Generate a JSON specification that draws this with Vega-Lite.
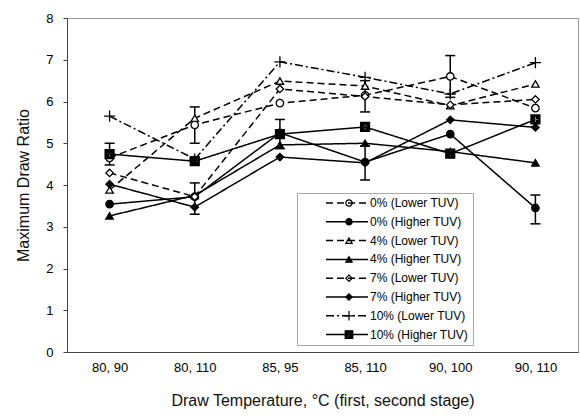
{
  "$schema": "https://vega.github.io/schema/vega-lite/v6.json",
  "width": 511,
  "height": 334,
  "autosize": "none",
  "padding": {"left": 67, "top": 18, "right": 2, "bottom": 68},
  "background": "white",
  "config": {
    "font": "Liberation Sans",
    "view": {"stroke": "#999", "strokeWidth": 1},
    "axis": {"grid": false, "labelColor": "black", "titleColor": "#111", "titleFontWeight": "normal", "domainColor": "#444", "tickColor": "#444", "labelFontSize": 13, "titleFontSize": 16}
  },
  "datasets": {
    "pts": [
      {"series": "0% (Lower TUV)", "temp": "80, 90", "ratio": 4.65},
      {"series": "0% (Lower TUV)", "temp": "80, 110", "ratio": 5.44},
      {"series": "0% (Lower TUV)", "temp": "85, 95", "ratio": 5.96},
      {"series": "0% (Lower TUV)", "temp": "85, 110", "ratio": 6.15},
      {"series": "0% (Lower TUV)", "temp": "90, 100", "ratio": 6.6},
      {"series": "0% (Lower TUV)", "temp": "90, 110", "ratio": 5.84},
      {"series": "0% (Higher TUV)", "temp": "80, 90", "ratio": 3.54},
      {"series": "0% (Higher TUV)", "temp": "80, 110", "ratio": 3.72},
      {"series": "0% (Higher TUV)", "temp": "85, 95", "ratio": 5.25},
      {"series": "0% (Higher TUV)", "temp": "85, 110", "ratio": 4.55},
      {"series": "0% (Higher TUV)", "temp": "90, 100", "ratio": 5.22},
      {"series": "0% (Higher TUV)", "temp": "90, 110", "ratio": 3.45},
      {"series": "4% (Lower TUV)", "temp": "80, 90", "ratio": 3.88},
      {"series": "4% (Lower TUV)", "temp": "80, 110", "ratio": 5.6},
      {"series": "4% (Lower TUV)", "temp": "85, 95", "ratio": 6.49},
      {"series": "4% (Lower TUV)", "temp": "85, 110", "ratio": 6.37},
      {"series": "4% (Lower TUV)", "temp": "90, 100", "ratio": 5.9},
      {"series": "4% (Lower TUV)", "temp": "90, 110", "ratio": 6.42},
      {"series": "4% (Higher TUV)", "temp": "80, 90", "ratio": 3.26},
      {"series": "4% (Higher TUV)", "temp": "80, 110", "ratio": 3.75},
      {"series": "4% (Higher TUV)", "temp": "85, 95", "ratio": 4.96},
      {"series": "4% (Higher TUV)", "temp": "85, 110", "ratio": 5.0},
      {"series": "4% (Higher TUV)", "temp": "90, 100", "ratio": 4.8},
      {"series": "4% (Higher TUV)", "temp": "90, 110", "ratio": 4.53},
      {"series": "7% (Lower TUV)", "temp": "80, 90", "ratio": 4.29},
      {"series": "7% (Lower TUV)", "temp": "80, 110", "ratio": 3.72},
      {"series": "7% (Lower TUV)", "temp": "85, 95", "ratio": 6.3},
      {"series": "7% (Lower TUV)", "temp": "85, 110", "ratio": 6.12},
      {"series": "7% (Lower TUV)", "temp": "90, 100", "ratio": 5.92},
      {"series": "7% (Lower TUV)", "temp": "90, 110", "ratio": 6.05},
      {"series": "7% (Higher TUV)", "temp": "80, 90", "ratio": 4.02},
      {"series": "7% (Higher TUV)", "temp": "80, 110", "ratio": 3.47},
      {"series": "7% (Higher TUV)", "temp": "85, 95", "ratio": 4.67},
      {"series": "7% (Higher TUV)", "temp": "85, 110", "ratio": 4.53},
      {"series": "7% (Higher TUV)", "temp": "90, 100", "ratio": 5.56},
      {"series": "7% (Higher TUV)", "temp": "90, 110", "ratio": 5.38},
      {"series": "10% (Lower TUV)", "temp": "80, 90", "ratio": 5.65},
      {"series": "10% (Lower TUV)", "temp": "80, 110", "ratio": 4.62},
      {"series": "10% (Lower TUV)", "temp": "85, 95", "ratio": 6.95},
      {"series": "10% (Lower TUV)", "temp": "85, 110", "ratio": 6.58},
      {"series": "10% (Lower TUV)", "temp": "90, 100", "ratio": 6.18},
      {"series": "10% (Lower TUV)", "temp": "90, 110", "ratio": 6.93},
      {"series": "10% (Higher TUV)", "temp": "80, 90", "ratio": 4.74},
      {"series": "10% (Higher TUV)", "temp": "80, 110", "ratio": 4.57},
      {"series": "10% (Higher TUV)", "temp": "85, 95", "ratio": 5.22},
      {"series": "10% (Higher TUV)", "temp": "85, 110", "ratio": 5.39},
      {"series": "10% (Higher TUV)", "temp": "90, 100", "ratio": 4.75},
      {"series": "10% (Higher TUV)", "temp": "90, 110", "ratio": 5.57}
    ],
    "err": [
      {"series": "0% (Lower TUV)", "temp": "80, 110", "lo": 5.0, "hi": 5.87},
      {"series": "0% (Lower TUV)", "temp": "85, 110", "lo": 5.75, "hi": 6.5},
      {"series": "0% (Lower TUV)", "temp": "90, 100", "lo": 6.1, "hi": 7.1},
      {"series": "10% (Higher TUV)", "temp": "80, 90", "lo": 4.48, "hi": 5.0},
      {"series": "10% (Higher TUV)", "temp": "85, 95", "lo": 4.87, "hi": 5.57},
      {"series": "4% (Higher TUV)", "temp": "80, 110", "lo": 3.3, "hi": 4.05},
      {"series": "7% (Higher TUV)", "temp": "85, 110", "lo": 4.12, "hi": 4.94},
      {"series": "0% (Higher TUV)", "temp": "90, 110", "lo": 3.07, "hi": 3.76}
    ]
  },
  "encoding": {
    "x": {
      "field": "temp", "type": "ordinal",
      "sort": ["80, 90", "80, 110", "85, 95", "85, 110", "90, 100", "90, 110"],
      "scale": {"type": "point", "padding": 0.5},
      "axis": {"title": "Draw Temperature, °C (first, second stage)", "labelAngle": 0, "ticks": false, "labelPadding": 9, "titlePadding": 18}
    }
  },
  "layer": [
    {
      "data": {"name": "err"},
      "mark": {"type": "rule", "color": "black", "strokeWidth": 1.5},
      "encoding": {
        "y": {"field": "lo", "type": "quantitative"},
        "y2": {"field": "hi"}
      }
    },
    {
      "data": {"name": "err"},
      "mark": {"type": "tick", "color": "black", "size": 10, "thickness": 1.5, "opacity": 1},
      "encoding": {"y": {"field": "lo", "type": "quantitative"}}
    },
    {
      "data": {"name": "err"},
      "mark": {"type": "tick", "color": "black", "size": 10, "thickness": 1.5, "opacity": 1},
      "encoding": {"y": {"field": "hi", "type": "quantitative"}}
    },
    {
      "data": {"name": "pts"},
      "mark": {"type": "line", "color": "black", "strokeWidth": 1.5},
      "encoding": {
        "y": {
          "field": "ratio", "type": "quantitative",
          "scale": {"domain": [0, 8], "nice": false},
          "axis": {"title": "Maximum Draw Ratio", "values": [0, 1, 2, 3, 4, 5, 6, 7, 8], "tickSize": 4, "labelPadding": 10, "titlePadding": 14}
        },
        "strokeDash": {
          "field": "series", "type": "nominal",
          "scale": {
            "domain": ["0% (Lower TUV)", "0% (Higher TUV)", "4% (Lower TUV)", "4% (Higher TUV)", "7% (Lower TUV)", "7% (Higher TUV)", "10% (Lower TUV)", "10% (Higher TUV)"],
            "range": [[7, 4], [1, 0], [7, 4], [1, 0], [7, 4], [1, 0], [8, 3, 2, 3], [1, 0]]
          },
          "legend": {
            "orient": "none", "legendX": 230, "legendY": 175, "title": null,
            "symbolType": "stroke", "symbolSize": 1764, "symbolStrokeWidth": 1.5, "symbolStrokeColor": "black",
            "clipHeight": 12,
            "labelFontSize": 12, "labelOffset": 1, "labelColor": "black", "rowPadding": 6.8, "padding": 4, "symbolOffset": 24,
            "strokeColor": "#aaa"
          }
        }
      }
    },
    {
      "data": {"name": "pts"},
      "mark": {"type": "point", "strokeWidth": 1.3, "opacity": 1, "size": 55},
      "encoding": {
        "y": {"field": "ratio", "type": "quantitative"},
        "shape": {
          "field": "series", "type": "nominal",
          "scale": {
            "domain": ["0% (Lower TUV)", "0% (Higher TUV)", "4% (Lower TUV)", "4% (Higher TUV)", "7% (Lower TUV)", "7% (Higher TUV)", "10% (Lower TUV)", "10% (Higher TUV)"],
            "range": ["circle", "circle", "triangle-up", "triangle-up", "diamond", "diamond", "M-1.5,0H1.5M0,-1.5V1.5", "M-1.2,-1.2H1.2V1.2H-1.2Z M-0.25,-0.85L-0.25,-0.25L-0.85,-0.25L-0.85,0.25L-0.25,0.25L-0.25,0.85L0.25,0.85L0.25,0.25L0.85,0.25L0.85,-0.25L0.25,-0.25L0.25,-0.85Z"]
          },
          "legend": {
            "orient": "none", "legendX": 248, "legendY": 175, "title": null,
            "symbolSize": 40, "symbolStrokeWidth": 1.2,
            "clipHeight": 12,
            "labelExpr": "''",
            "labelFontSize": 12, "labelOffset": 1, "rowPadding": 6.8, "padding": 4, "symbolOffset": 24
          }
        },
        "fill": {
          "field": "series", "type": "nominal",
          "scale": {
            "domain": ["0% (Lower TUV)", "0% (Higher TUV)", "4% (Lower TUV)", "4% (Higher TUV)", "7% (Lower TUV)", "7% (Higher TUV)", "10% (Lower TUV)", "10% (Higher TUV)"],
            "range": ["white", "black", "white", "black", "white", "black", "black", "black"]
          }
        },
        "stroke": {
          "field": "series", "type": "nominal",
          "scale": {
            "domain": ["0% (Lower TUV)", "0% (Higher TUV)", "4% (Lower TUV)", "4% (Higher TUV)", "7% (Lower TUV)", "7% (Higher TUV)", "10% (Lower TUV)", "10% (Higher TUV)"],
            "range": ["black", "black", "black", "black", "black", "black", "black", "black"]
          }
        }
      }
    }
  ],
  "resolve": {"legend": {"strokeDash": "independent"}}
}
